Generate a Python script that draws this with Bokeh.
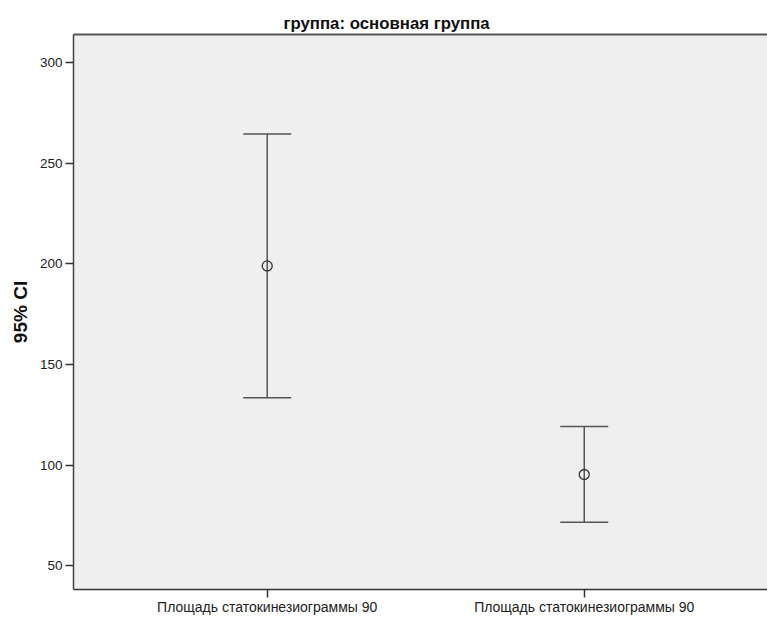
from bokeh.plotting import figure
from bokeh.models import ColumnDataSource, Whisker, TeeHead, FixedTicker, Range1d, LinearAxis
from bokeh.embed import file_html
from bokeh.resources import INLINE

# data
categories = ["Площадь статокинезиограммы 90", "Площадь статокинезиограммы 90"]
positions = [1, 2]
means = [199.0, 95.4]
upper = [264.5, 119.2]
lower = [133.5, 71.7]
y_ticks = [50, 100, 150, 200, 250, 300]
title_text = "группа: основная группа"
y_label = "95% CI"

FONT = "Liberation Sans"
DARK = "#555555"

p = figure(width=767, height=617, output_backend="svg", toolbar_location=None,
           x_range=Range1d(0.389, 2.578), y_range=Range1d(38.3, 313.9),
           x_axis_location=None, y_axis_location=None,
           min_border_left=73, min_border_right=0, min_border_top=34, min_border_bottom=0)

p.background_fill_color = "#EFEFEF"
p.border_fill_color = "white"
p.outline_line_color = None
p.grid.visible = False

src = ColumnDataSource(dict(x=positions, mean=means, upper=upper, lower=lower))

w = Whisker(source=src, base="x", upper="upper", lower="lower",
            line_color=DARK, line_width=1.5,
            upper_head=TeeHead(size=48, line_color=DARK, line_width=1.5),
            lower_head=TeeHead(size=48, line_color=DARK, line_width=1.5))
p.add_layout(w)

p.scatter("x", "mean", source=src, marker="circle", size=10,
          fill_color=None, line_color="#333333", line_width=1.3)

# top frame line as an empty axis
top = LinearAxis(ticker=FixedTicker(ticks=[]), major_label_text_font_size="0px",
                 axis_line_color="#555555", axis_line_width=2,
                 major_tick_line_color=None, minor_tick_line_color=None)
p.add_layout(top, "above")

# left axis
yax = LinearAxis(ticker=FixedTicker(ticks=y_ticks),
                 minor_tick_line_color=None, major_tick_in=0, major_tick_out=8,
                 axis_line_color="#444444", axis_line_width=1.5,
                 major_tick_line_color="#333333", major_tick_line_width=1.5,
                 major_label_text_font=FONT, major_label_text_font_size="13.5px",
                 major_label_text_color="#222222", major_label_standoff=3,
                 axis_label=y_label, axis_label_text_font=FONT,
                 axis_label_text_font_style="bold", axis_label_text_font_size="19px",
                 axis_label_text_color="#111111", axis_label_standoff=6)
p.add_layout(yax, "left")

# bottom axis
xax = LinearAxis(ticker=FixedTicker(ticks=positions),
                 major_label_overrides={pos: cat for pos, cat in zip(positions, categories)},
                 minor_tick_line_color=None, major_tick_in=0, major_tick_out=8,
                 axis_line_color="#333333", axis_line_width=1.5,
                 major_tick_line_color="#333333", major_tick_line_width=1.5,
                 major_label_text_font=FONT, major_label_text_font_size="14px",
                 major_label_text_color="#222222", major_label_standoff=1)
p.add_layout(xax, "below")

p.title.text = title_text
p.title.text_font = FONT
p.title.text_font_style = "bold"
p.title.text_font_size = "16.8px"
p.title.text_color = "#111111"
p.title.align = "left"
p.title.offset = 210
p.title.standoff = 4

open("out.html", "w").write(file_html(p, INLINE))
